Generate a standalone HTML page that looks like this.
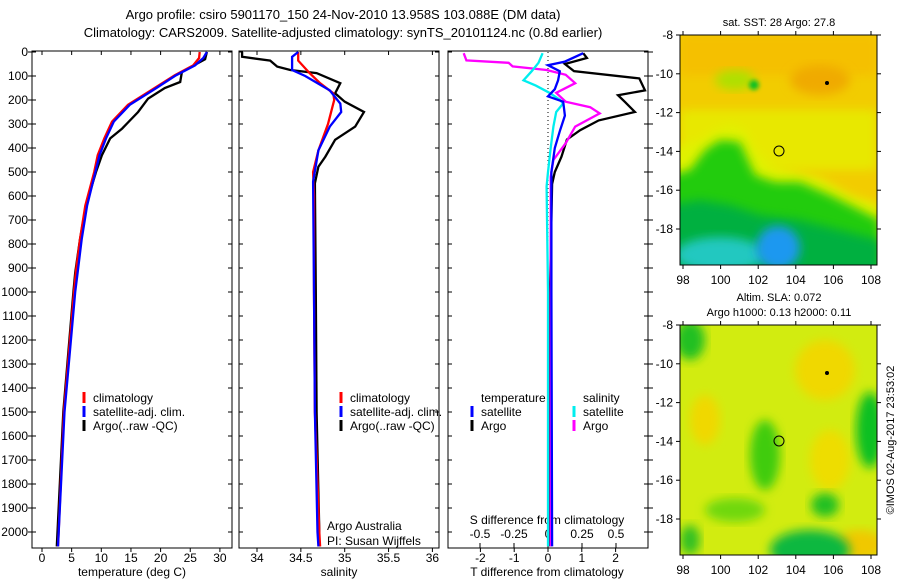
<!DOCTYPE html>
<html><head><meta charset="utf-8"><style>
body{margin:0;background:#fff;}
svg{display:block;font-family:"Liberation Sans",sans-serif;}
</style></head><body>
<svg id="fig" width="900" height="580" viewBox="0 0 900 580">
<defs>
<filter id="bl" x="-20%" y="-20%" width="140%" height="140%"><feGaussianBlur stdDeviation="5"/></filter>
<filter id="bl2" x="-50%" y="-50%" width="200%" height="200%"><feGaussianBlur stdDeviation="2"/></filter>
<clipPath id="c1"><rect x="680" y="35" width="197" height="230"/></clipPath>
<clipPath id="c2"><rect x="680" y="325" width="197" height="230"/></clipPath>
<clipPath id="p1"><rect x="32" y="51" width="200" height="497"/></clipPath>
<clipPath id="p2"><rect x="239" y="51" width="200" height="497"/></clipPath>
<clipPath id="p3"><rect x="448" y="51" width="200" height="497"/></clipPath>
</defs>
<text x="343" y="19" font-size="13" text-anchor="middle">Argo profile: csiro 5901170_150 24-Nov-2010 13.958S 103.088E (DM data)</text>
<text x="343" y="37" font-size="13" text-anchor="middle">Climatology: CARS2009. Satellite-adjusted climatology: synTS_20101124.nc (0.8d earlier)</text>

<g id="maps">
<g clip-path="url(#c1)">
<rect x="680" y="35" width="197" height="230" fill="#f2cc00"/>
<rect x="680" y="35" width="197" height="40" fill="#f5c000" filter="url(#bl)"/>
<rect x="680" y="110" width="197" height="60" fill="#e8e800" filter="url(#bl)"/>
<polygon points="670,150 700,140 715,130 730,125 745,130 755,150 770,165 790,170 820,178 850,195 880,205 880,280 670,280" fill="#e0f200" filter="url(#bl)"/>
<polygon points="670,175 690,170 705,150 720,140 740,142 748,160 755,175 775,182 800,182 830,195 860,210 880,220 880,280 670,280" fill="#22cc11" filter="url(#bl)"/>
<polygon points="670,205 700,200 730,205 760,215 800,220 840,230 880,240 880,280 670,280" fill="#00b040" filter="url(#bl)"/>
<ellipse cx="720" cy="255" rx="45" ry="18" fill="#22c8c0" filter="url(#bl)"/>
<ellipse cx="778" cy="248" rx="22" ry="22" fill="#1a98f0" filter="url(#bl)"/>
<ellipse cx="735" cy="80" rx="20" ry="10" fill="#aee000" filter="url(#bl)"/>
<ellipse cx="754" cy="85" rx="5" ry="5" fill="#10c020" filter="url(#bl2)"/>
<ellipse cx="820" cy="80" rx="30" ry="15" fill="#f0aa00" filter="url(#bl)"/>
</g>
<rect x="680" y="35" width="197" height="230" fill="none" stroke="#000"/>
<circle cx="779" cy="151" r="5" fill="none" stroke="#000"/>
<circle cx="827" cy="83" r="2" fill="#000"/>
<text x="779" y="26" font-size="11" text-anchor="middle">sat. SST: 28 Argo: 27.8</text>

<g clip-path="url(#c2)">
<rect x="680" y="325" width="197" height="230" fill="#d2ec10"/>
<ellipse cx="825" cy="370" rx="30" ry="30" fill="#f0d800" filter="url(#bl)"/>
<ellipse cx="705" cy="420" rx="15" ry="25" fill="#f0d800" filter="url(#bl)"/>
<ellipse cx="830" cy="460" rx="20" ry="30" fill="#eedd00" filter="url(#bl)"/>
<ellipse cx="860" cy="545" rx="25" ry="15" fill="#f0c800" filter="url(#bl)"/>
<ellipse cx="690" cy="340" rx="15" ry="20" fill="#20c020" filter="url(#bl)"/>
<ellipse cx="765" cy="455" rx="15" ry="35" fill="#40cc10" filter="url(#bl)"/>
<ellipse cx="870" cy="430" rx="14" ry="38" fill="#10c020" filter="url(#bl)"/>
<ellipse cx="825" cy="505" rx="14" ry="12" fill="#20c020" filter="url(#bl)"/>
<ellipse cx="735" cy="510" rx="30" ry="12" fill="#70d810" filter="url(#bl)"/>
<ellipse cx="810" cy="550" rx="40" ry="20" fill="#10b840" filter="url(#bl)"/>
<ellipse cx="690" cy="540" rx="10" ry="15" fill="#30c020" filter="url(#bl)"/>
</g>
<rect x="680" y="325" width="197" height="230" fill="none" stroke="#000"/>
<circle cx="779" cy="441" r="5" fill="none" stroke="#000"/>
<circle cx="827" cy="373" r="2" fill="#000"/>
<text x="779" y="301" font-size="11" text-anchor="middle">Altim. SLA: 0.072</text>
<text x="779" y="316" font-size="11" text-anchor="middle">Argo h1000: 0.13 h2000: 0.11</text>
<text transform="translate(894,440) rotate(-90)" font-size="11" text-anchor="middle">©IMOS 02-Aug-2017 23:53:02</text>
</g>
<g id="dyn"></g>
</svg>
<script>
const depthTicks=[0,100,200,300,400,500,600,700,800,900,1000,1100,1200,1300,1400,1500,1600,1700,1800,1900,2000];
const tempTicks=[0,5,10,15,20,25,30];
const salTicks=[34,34.5,35,35.5,36];
const tdiffTicks=[-2,-1,0,1,2];
const sdiffTicks=[-0.5,-0.25,0,0.25,0.5];
const latTicks=[-8,-10,-12,-14,-16,-18];
const lonTicks=[98,100,102,104,106,108];
const tClimDepth=[0,25,56,97,150,220,290,360,430,500,640,780,920,1000,1500,2060];
const tClim=[26.6,26.5,25.5,22.4,19,14.5,11.8,10.5,9.4,8.8,7.3,6.4,5.7,5.4,3.7,2.7];
const tSatDepth=[0,25,56,97,150,220,290,360,430,500,640,780,920,1000,1500,2060];
const tSat=[27.8,27.2,25.8,22.6,19.3,14.8,12.1,10.8,9.7,9.0,7.6,6.7,6.0,5.6,3.8,2.7];
const tArgoDepth=[0,30,83,125,150,194,250,319,360,430,500,640,780,920,1000,1500,2060];
const tArgo=[27.8,27.5,23.6,23.3,20.7,17.9,16.2,13.5,11.5,10.1,9.1,7.4,6.4,5.6,5.3,3.6,2.5];
const sClimDepth=[0,36,88,130,172,200,300,410,500,600,1000,1500,2000,2060];
const sClim=[34.47,34.47,34.6,34.72,34.87,34.88,34.81,34.7,34.64,34.65,34.65,34.66,34.71,34.72];
const sSatDepth=[0,20,75,100,160,215,250,311,410,540,1000,1500,2000,2060];
const sSat=[34.47,34.4,34.4,34.55,34.83,34.95,34.96,34.83,34.7,34.64,34.65,34.66,34.69,34.7];
const sArgoDepth=[0,20,36,61,75,88,130,172,207,250,311,366,436,478,547,1000,1500,2000,2060];
const sArgo=[33.83,33.83,34.15,34.23,34.38,34.68,34.95,34.89,35.0,35.22,35.12,34.89,34.78,34.7,34.66,34.67,34.68,34.71,34.71];
const dTSatDepth=[5,40,55,80,118,155,185,207,265,330,400,500,1000,2060];
const dTSat=[1.04,0.5,0,0.35,0.3,0.2,0,0.45,0.5,0.35,0.2,0.1,0.1,0.12];
const dTArgoDepth=[5,25,50,80,110,160,180,207,250,285,326,365,436,500,550,1000,2060];
const dTArgo=[1.04,1.15,0.5,0.77,2.7,2.87,2.07,2.27,2.57,1.5,0.95,0.56,0.4,0.2,0.12,0.06,0.05];
const dSArgoDepth=[5,35,45,60,75,95,130,170,207,230,256,311,380,450,520,1000,2060];
const dSArgo=[-0.62,-0.6,-0.29,-0.26,-0.01,0.13,0.2,0.06,0.13,0.31,0.38,0.2,0.13,0.04,0.02,0.02,0.02];
const dSSatDepth=[5,45,80,118,140,170,200,215,250,311,400,500,560,1000,2060];
const dSSat=[-0.04,-0.07,-0.12,-0.18,-0.09,0.01,0.09,0.11,0.06,0.04,0.02,0,-0.01,0,0];

const NS='http://www.w3.org/2000/svg';
const g=document.getElementById('dyn');
function mk(tag,at,parent){const e=document.createElementNS(NS,tag);for(const k in at)e.setAttribute(k,at[k]);(parent||g).appendChild(e);return e;}
const Y0=52,YS=0.24;
const yD=d=>Y0+d*YS;
const xT=t=>42+t*5.93;
const xS=s=>257+(s-34)*87.7;
const xTd=v=>548+v*33.8;
const xSd=v=>548+v*136;
const P=[{x:32,name:'temperature-panel',clip:'p1'},{x:239,name:'salinity-panel',clip:'p2'},{x:448,name:'difference-panel',clip:'p3'}];
P.forEach((p,i)=>{
  const r=mk('rect',{x:p.x,y:51,width:200,height:497,fill:'none',stroke:'#000'});
  
  
  depthTicks.forEach(d=>{
    const y=yD(d);
    if(i===0){mk('line',{x1:p.x-4,x2:p.x,y1:y,y2:y,stroke:'#000'});}
    mk('line',{x1:p.x,x2:p.x+4,y1:y,y2:y,stroke:'#000'});
    mk('line',{x1:p.x+196,x2:p.x+200,y1:y,y2:y,stroke:'#000'});
    if(i===2){mk('line',{x1:p.x+200,x2:p.x+205,y1:y,y2:y,stroke:'#000'});}
    if(i===0){const t=mk('text',{x:28,y:y+4,'font-size':12,'text-anchor':'end'});t.textContent=d;
      
      }
  });
});
function xt(vals,fx,labY,topTick,name){
  vals.forEach(v=>{const x=fx(v);
    mk('line',{x1:x,x2:x,y1:548,y2:552,stroke:'#000'});
    if(topTick){mk('line',{x1:x,x2:x,y1:51,y2:55,stroke:'#000'});}
    const t=mk('text',{x:x,y:labY,'font-size':12,'text-anchor':'middle'});t.textContent=v;
    
    
  });
}
xt(tempTicks,xT,562,true,'temperature-tick-label');
xt(salTicks,xS,562,true,'salinity-tick-label');
xt(tdiffTicks,xTd,562,false,'t-difference-tick-label');
sdiffTicks.forEach(v=>{const x=xSd(v);mk('line',{x1:x,x2:x,y1:543,y2:548,stroke:'#000'});
  const t=mk('text',{x:x,y:538,'font-size':12,'text-anchor':'middle'});t.textContent=String(v);
  
  });
function lab(x,y,s,name,anchor){const t=mk('text',{x:x,y:y,'font-size':12,'text-anchor':anchor||'middle'});t.textContent=s;
  
  return t;}
lab(132,576,'temperature (deg C)','x-axis-title-temperature');
lab(339,576,'salinity','x-axis-title-salinity');
lab(547,576,'T difference from climatology','x-axis-title-t-difference');
lab(547,524,'S difference from climatology','s-difference-title');
mk('line',{x1:548,x2:548,y1:52,y2:548,stroke:'#000','stroke-dasharray':'1,3'});
function line(ds,vs,fx,col,clip,name){
  const pts=ds.map((d,i)=>fx(vs[i]).toFixed(1)+','+yD(d).toFixed(1)).join(' ');
  const e=mk('polyline',{points:pts,fill:'none',stroke:col,'stroke-width':2.3,'clip-path':'url(#'+clip+')'});
  
  
}
line(tArgoDepth,tArgo,xT,'#000','p1','temperature-argo-line');
line(tClimDepth,tClim,xT,'#f00','p1','temperature-climatology-line');
line(tSatDepth,tSat,xT,'#00f','p1','temperature-satellite-line');
line(sArgoDepth,sArgo,xS,'#000','p2','salinity-argo-line');
line(sClimDepth,sClim,xS,'#f00','p2','salinity-climatology-line');
line(sSatDepth,sSat,xS,'#00f','p2','salinity-satellite-line');
line(dTArgoDepth,dTArgo,xTd,'#000','p3','t-diff-argo-line');
line(dSArgoDepth,dSArgo,xSd,'#f0f','p3','s-diff-argo-line');
line(dSSatDepth,dSSat,xSd,'#0ee','p3','s-diff-satellite-line');
line(dTSatDepth,dTSat,xTd,'#00f','p3','t-diff-satellite-line');
function leg(x,y,col,s,name){mk('line',{x1:x,x2:x,y1:y-10,y2:y+1,stroke:col,'stroke-width':3});
  lab(x+9,y,s,name,'start');}
[['climatology','#f00'],['satellite-adj. clim.','#00f'],['Argo(..raw -QC)','#000']].forEach((a,i)=>leg(84,402+i*14,a[1],a[0],'legend-entry-temp'));
[['climatology','#f00'],['satellite-adj. clim.','#00f'],['Argo(..raw -QC)','#000']].forEach((a,i)=>leg(341,402+i*14,a[1],a[0],'legend-entry-sal'));
lab(481,402,'temperature','legend-header-temperature','start');
lab(583,402,'salinity','legend-header-salinity','start');
leg(472,416,'#00f','satellite','legend-entry-t-satellite');
leg(472,430,'#000','Argo','legend-entry-t-argo');
leg(574,416,'#0ee','satellite','legend-entry-s-satellite');
leg(574,430,'#f0f','Argo','legend-entry-s-argo');
lab(327,530,'Argo Australia','credit-argo-australia','start');
lab(327,545,'PI: Susan Wijffels','credit-pi','start');
[35,325].forEach(top=>{
  latTicks.forEach(l=>{const y=top+(-8-l)*19.4;
    mk('line',{x1:676,x2:680,y1:y,y2:y,stroke:'#000'});
    mk('line',{x1:877,x2:881,y1:y,y2:y,stroke:'#000'});
    lab(673,y+4,String(l),'map-lat-tick-label','end');});
  lonTicks.forEach(l=>{const x=683+(l-98)*18.8;
    mk('line',{x1:x,x2:x,y1:top-4,y2:top,stroke:'#000'});
    mk('line',{x1:x,x2:x,y1:top+230,y2:top+234,stroke:'#000'});
    lab(x,top+249,String(l),'map-lon-tick-label');});
});
</script>
</body></html>
